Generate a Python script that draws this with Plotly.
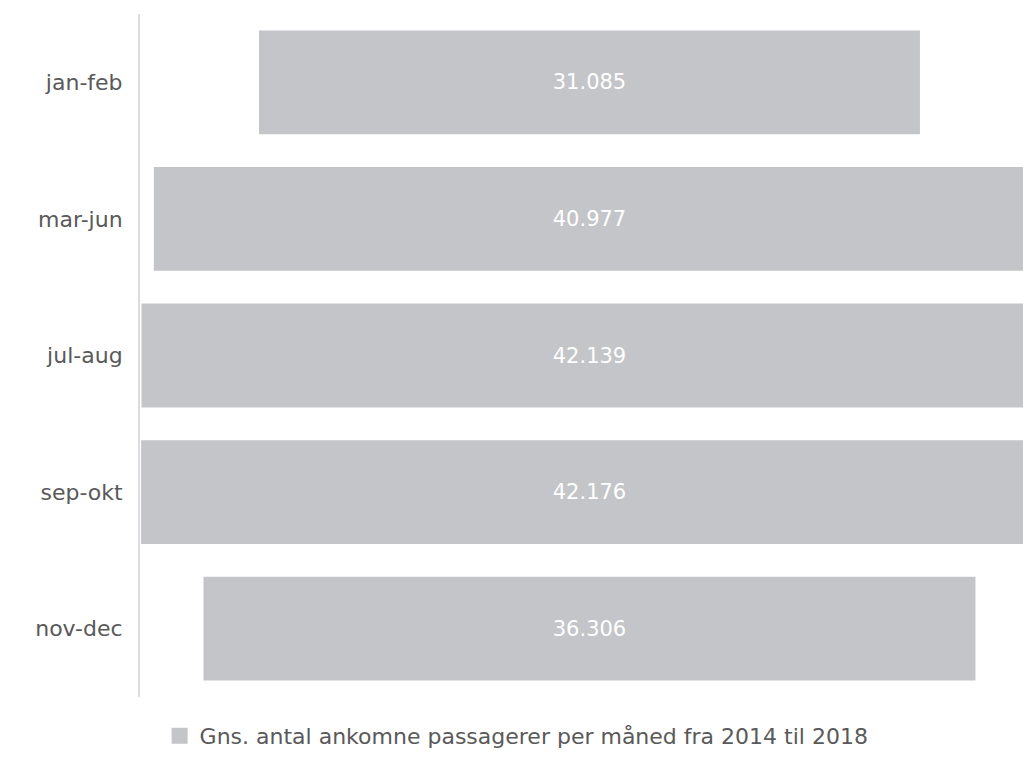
import plotly.graph_objects as go

categories = ["jan-feb", "mar-jun", "jul-aug", "sep-okt", "nov-dec"]
values = [31085, 40977, 42139, 42176, 36306]
series_name = "Gns. antal ankomne passagerer per måned fra 2014 til 2018"

FONT = "DejaVu Sans, Noto Sans, sans-serif"
BAR_COLOR = "#c4c5c9"
TEXT_COLOR = "#595959"

fig = go.Figure()
fig.add_trace(go.Funnel(
    y=categories,
    x=values,
    name=series_name,
    marker=dict(color=BAR_COLOR, line=dict(width=0)),
    connector=dict(visible=False),
    texttemplate="%{value:,}",
    textposition="inside",
    insidetextanchor="middle",
    textfont=dict(color="#ffffff", size=21, family=FONT),
    showlegend=False,
    hoverinfo="y+x",
))
# legend entry (square swatch)
fig.add_trace(go.Scatter(
    x=[None], y=[None], mode="markers", name=series_name,
    marker=dict(symbol="square", size=18, color=BAR_COLOR),
    showlegend=True, hoverinfo="skip",
))

fig.update_layout(
    width=1023, height=757,
    margin=dict(l=140, r=0, t=14, b=60),
    paper_bgcolor="white", plot_bgcolor="white",
    separators=",.",
    funnelgap=0.24,
    font=dict(family=FONT, color=TEXT_COLOR),
    showlegend=True,
    legend=dict(
        orientation="h", xref="container", yref="container",
        x=0.505, xanchor="center", y=-0.007, yanchor="bottom",
        font=dict(size=22, color=TEXT_COLOR, family=FONT),
        itemsizing="trace",
    ),
    xaxis=dict(visible=False, range=[-21140, 20390], fixedrange=True),
    yaxis=dict(
        type="category",
        categoryorder="array", categoryarray=categories,
        autorange="reversed",
        showline=True, linecolor="#dcdcdc", linewidth=2,
        showgrid=False, zeroline=False,
        ticks="outside", ticklen=11, tickcolor="rgba(0,0,0,0)",
        tickfont=dict(size=22, color=TEXT_COLOR, family=FONT),
    ),
)

fig.write_html(
    "out.html",
    config={"displayModeBar": False},
    post_script="document.body.style.margin='0';",
)
